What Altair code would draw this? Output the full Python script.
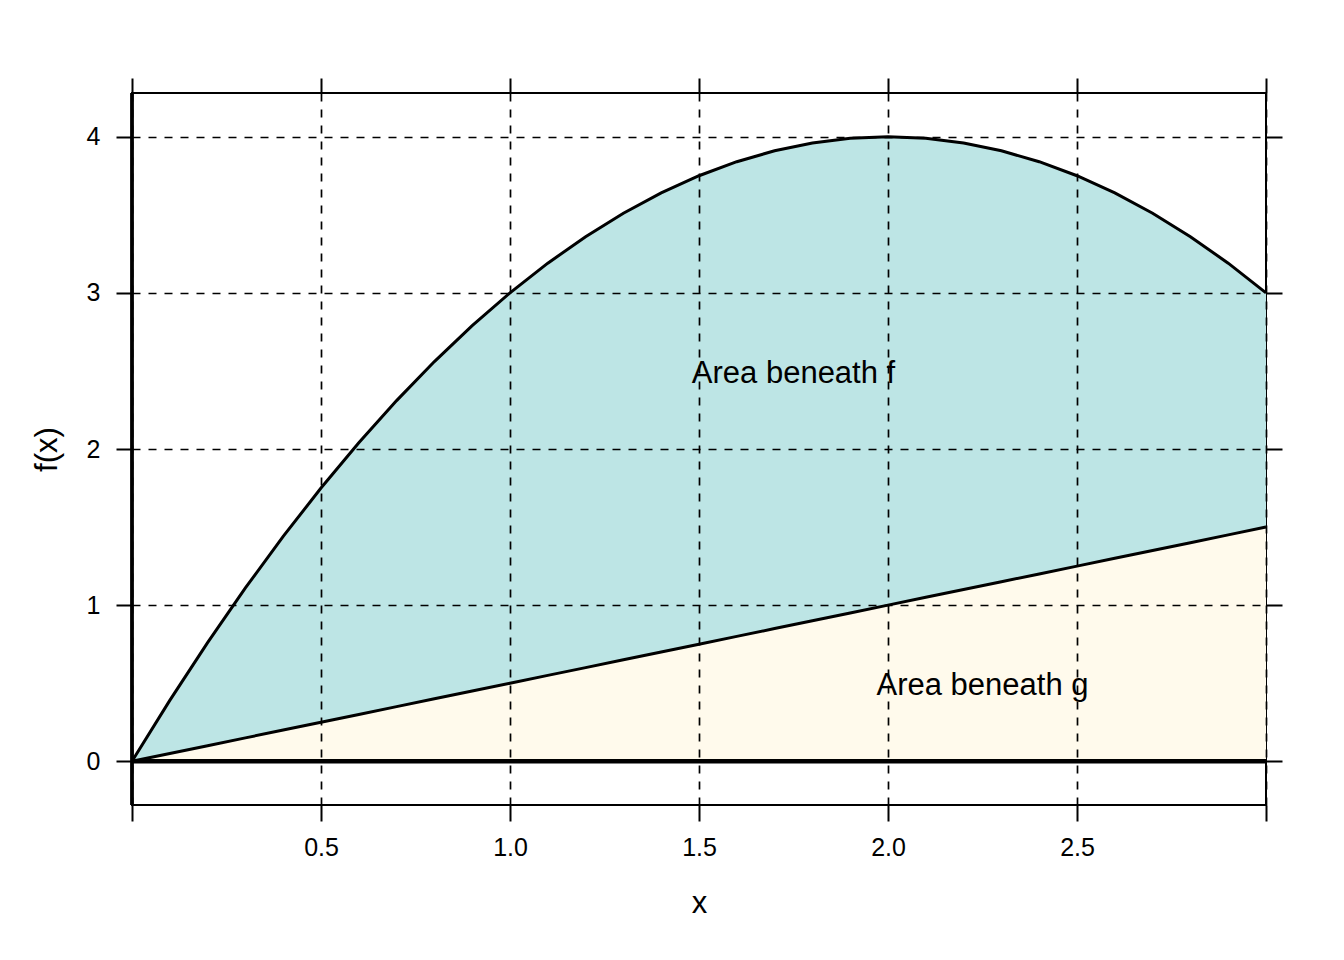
import altair as alt
import pandas as pd

FONT = "Liberation Sans"

# Values
x_vals = [0.0, 0.1, 0.2, 0.3, 0.4, 0.5, 0.6, 0.7, 0.8, 0.9, 1.0,
          1.1, 1.2, 1.3, 1.4, 1.5, 1.6, 1.7, 1.8, 1.9, 2.0,
          2.1, 2.2, 2.3, 2.4, 2.5, 2.6, 2.7, 2.8, 2.9, 3.0]
f_vals = [0.0, 0.39, 0.76, 1.11, 1.44, 1.75, 2.04, 2.31, 2.56, 2.79, 3.0,
          3.19, 3.36, 3.51, 3.64, 3.75, 3.84, 3.91, 3.96, 3.99, 4.0,
          3.99, 3.96, 3.91, 3.84, 3.75, 3.64, 3.51, 3.36, 3.19, 3.0]
g_vals = [0.0, 0.05, 0.1, 0.15, 0.2, 0.25, 0.3, 0.35, 0.4, 0.45, 0.5,
          0.55, 0.6, 0.65, 0.7, 0.75, 0.8, 0.85, 0.9, 0.95, 1.0,
          1.05, 1.1, 1.15, 1.2, 1.25, 1.3, 1.35, 1.4, 1.45, 1.5]

x_ticks = [0, 0.5, 1.0, 1.5, 2.0, 2.5, 3.0]
y_ticks = [0, 1, 2, 3, 4]

label_text = ["Area beneath f", "Area beneath g"]
label_x = [1.75, 2.25]
label_y = [2.5, 0.5]

df = pd.DataFrame({"x": x_vals, "f": f_vals, "g": g_vals})
lab = pd.DataFrame({"x": label_x, "y": label_y, "t": label_text})
zero_df = pd.DataFrame({"v": [0]})

xs = alt.Scale(domain=[0, 3], nice=False, zero=False)
ys = alt.Scale(domain=[-0.28, 4.28], nice=False, zero=False)

x_axis = alt.Axis(
    values=x_ticks,
    labelExpr="datum.value == 0 || datum.value == 3 ? '' : format(datum.value, '.1f')",
    title="x", titleX=567, titleY=107, titleBaseline="alphabetic", titleAlign="center",
    labelPadding=14, labelBaseline="top", grid=True, zindex=1, tickSize=16,
)
y_axis = alt.Axis(
    values=y_ticks, format="d",
    title="f(x)", titleAngle=270, titleX=-76, titleY=356,
    titleBaseline="alphabetic", titleAlign="center",
    labelPadding=16, grid=True, zindex=1, tickSize=16,
)

base = alt.Chart(df)

area_f = base.mark_area(color="#BDE5E5", opacity=1).encode(
    x=alt.X("x:Q", scale=xs, axis=x_axis),
    y=alt.Y("f:Q", scale=ys, axis=y_axis),
    y2=alt.datum(0),
)
area_g = base.mark_area(color="#FFFAEC", opacity=1).encode(
    x=alt.X("x:Q", scale=xs, axis=x_axis),
    y=alt.Y("g:Q", scale=ys, axis=y_axis),
    y2=alt.datum(0),
)
line_f = base.mark_line(color="black", strokeWidth=3).encode(
    x=alt.X("x:Q", scale=xs, axis=x_axis),
    y=alt.Y("f:Q", scale=ys, axis=y_axis),
)
line_g = base.mark_line(color="black", strokeWidth=3).encode(
    x=alt.X("x:Q", scale=xs, axis=x_axis),
    y=alt.Y("g:Q", scale=ys, axis=y_axis),
)
rule_x0 = alt.Chart(zero_df).mark_rule(color="black", strokeWidth=3.8).encode(
    x=alt.X("v:Q", scale=xs, axis=x_axis),
)
rule_y0 = alt.Chart(zero_df).mark_rule(color="black", strokeWidth=4.5).encode(
    y=alt.Y("v:Q", scale=ys, axis=y_axis),
)
texts = alt.Chart(lab).mark_text(
    font=FONT, fontSize=31, color="black", align="center", baseline="middle", dy=3
).encode(
    x=alt.X("x:Q", scale=xs, axis=x_axis),
    y=alt.Y("y:Q", scale=ys, axis=y_axis),
    text="t:N",
)

main = alt.layer(area_f, area_g, line_f, line_g, rule_x0, rule_y0, texts)

ticks_layer = base.mark_point(opacity=0).encode(
    x=alt.X("x:Q", scale=xs, axis=alt.Axis(orient="top", values=x_ticks, labels=False,
                                            title="", tickSize=15, grid=False)),
    y=alt.Y("f:Q", scale=ys, axis=alt.Axis(orient="right", values=y_ticks, labels=False,
                                            title="", tickSize=16, grid=False)),
)

chart = alt.layer(main, ticks_layer).resolve_axis(
    x="independent", y="independent"
).properties(
    width=1134, height=712,
    padding={"left": 124, "top": 85, "right": 70, "bottom": 147},
    autosize=alt.AutoSizeParams(type="none"),
).configure_view(
    stroke="black", strokeWidth=2
).configure_axis(
    domain=False, tickColor="black", tickWidth=2,
    labelFont=FONT, labelFontSize=25, labelColor="black",
    titleFont=FONT, titleFontSize=31, titleFontWeight="normal", titleColor="black",
    gridColor="black", gridDash=[8, 8], gridWidth=1.7, gridOpacity=1,
)

chart.save("out.html", embed_options={"renderer": "svg", "actions": False})
